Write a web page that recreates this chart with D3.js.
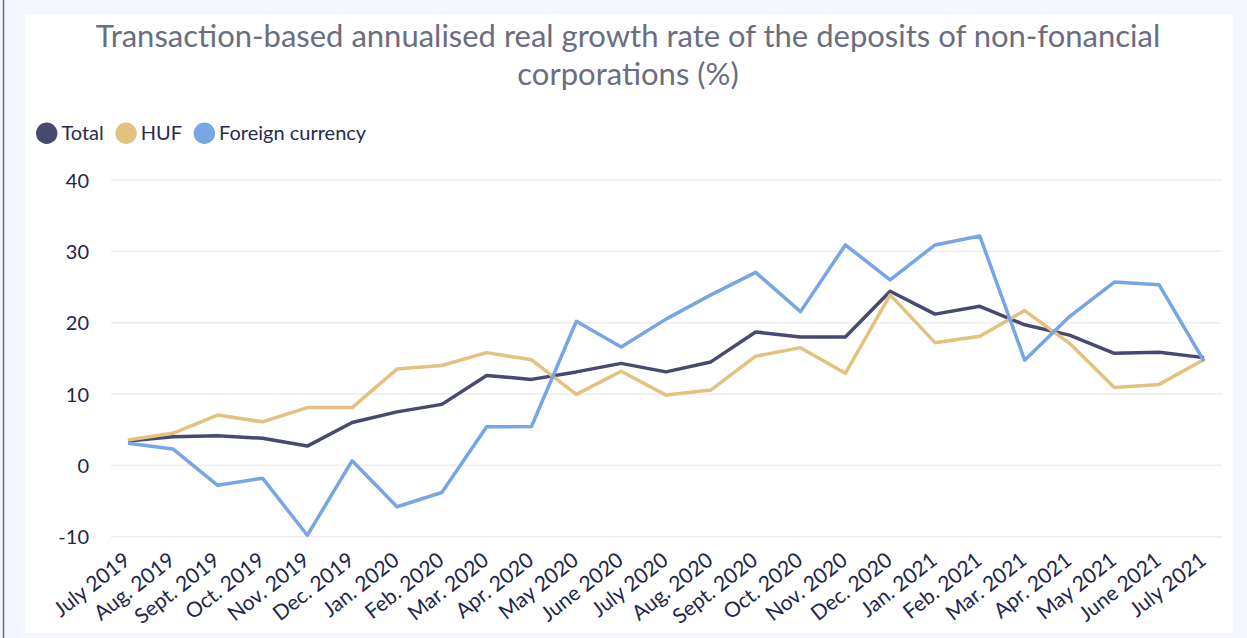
<!DOCTYPE html>
<html>
<head>
<meta charset="utf-8">
<script src="https://cdn.jsdelivr.net/npm/d3@7/dist/d3.min.js"></script>
<style>
  html, body { margin: 0; padding: 0; background: #f3f6fc; }
  svg { display: block; }
</style>
</head>
<body>
<svg id="chart" width="1247" height="638"></svg>
<script>
const categories = ["July 2019","Aug. 2019","Sept. 2019","Oct. 2019","Nov. 2019","Dec. 2019","Jan. 2020","Feb. 2020","Mar. 2020","Apr. 2020","May 2020","June 2020","July 2020","Aug. 2020","Sept. 2020","Oct. 2020","Nov. 2020","Dec. 2020","Jan. 2021","Feb. 2021","Mar. 2021","Apr. 2021","May 2021","June 2021","July 2021"];
const totalValues = [3.4, 4.0, 4.15, 3.8, 2.7, 6.0, 7.5, 8.55, 12.6, 12.05, 13.1, 14.3, 13.1, 14.5, 18.7, 18.0, 18.0, 24.4, 21.2, 22.3, 19.7, 18.25, 15.7, 15.85, 15.1];
const hufValues = [3.55, 4.5, 7.05, 6.1, 8.1, 8.1, 13.5, 14.0, 15.8, 14.8, 9.95, 13.2, 9.85, 10.55, 15.3, 16.5, 12.9, 23.9, 17.2, 18.1, 21.7, 17.1, 10.9, 11.35, 14.85];
const foreignValues = [3.1, 2.3, -2.8, -1.8, -9.8, 0.65, -5.8, -3.8, 5.4, 5.45, 20.2, 16.6, 20.5, 23.9, 27.05, 21.55, 30.9, 26.0, 30.9, 32.15, 14.75, 20.85, 25.7, 25.3, 14.6];
const yTicks = [-10, 0, 10, 20, 30, 40];
const yTickLabels = ["-10", "0", "10", "20", "30", "40"];
const seriesNames = ["Total", "HUF", "Foreign currency"];
const seriesColors = ["#474a70", "#e2c27e", "#78a5e3"];
const titleLines = ["Transaction-based annualised real growth rate of the deposits of non-fonancial", "corporations (%)"];

const svg = d3.select("#chart");
const FONT = "Lato, 'Open Sans', sans-serif";

// background panel
svg.append("rect").attr("x", 0).attr("y", 0).attr("width", 1247).attr("height", 638).attr("fill", "#f3f6fc");
svg.append("rect").attr("x", 25).attr("y", 14).attr("width", 1208).attr("height", 619).attr("fill", "#ffffff");
svg.append("line").attr("x1", 3.5).attr("x2", 3.5).attr("y1", 0).attr("y2", 638)
  .attr("stroke", "#6a6d8c").attr("stroke-width", 1.5);

// title
svg.append("g").selectAll("text").data(titleLines).join("text")
  .attr("x", 628).attr("y", (d, i) => 47 + i * 38)
  .attr("text-anchor", "middle")
  .attr("font-family", FONT).attr("font-size", 31)
  .attr("fill", "#6b6d80")
  .text(d => d);

// scales
const x = d3.scalePoint().domain(categories).range([128, 1204]);
const y = d3.scaleLinear().domain([-10, 40]).range([536.7, 180]);

// gridlines
svg.append("g").selectAll("line").data(yTicks).join("line")
  .attr("x1", 111).attr("x2", 1222)
  .attr("y1", d => y(d)).attr("y2", d => y(d))
  .attr("stroke", "#eeeeee").attr("stroke-width", 1.5);

// y axis
const yAxis = svg.append("g").attr("transform", "translate(89,0)")
  .call(d3.axisLeft(y).tickValues(yTicks).tickFormat((d, i) => yTickLabels[i]).tickSize(0).tickPadding(0));
yAxis.select(".domain").remove();
yAxis.selectAll("text").attr("font-family", FONT).attr("font-size", 20).attr("fill", "#22264a").attr("dy", "0.35em");

// x axis
const xAxis = svg.append("g").attr("transform", "translate(0,536.7)")
  .call(d3.axisBottom(x).tickSize(0).tickPadding(0));
xAxis.select(".domain").remove();
xAxis.selectAll("text")
  .attr("font-family", FONT).attr("font-size", 21).attr("fill", "#22264a")
  .attr("text-anchor", "end").attr("dy", 0).attr("y", 0)
  .attr("transform", "translate(3,26) rotate(-38)");

// lines
const seriesData = [totalValues, hufValues, foreignValues];
const line = d3.line().x((d, i) => x(categories[i])).y(d => y(d));
svg.append("g").selectAll("path").data(seriesData).join("path")
  .attr("d", d => line(d))
  .attr("fill", "none")
  .attr("stroke", (d, i) => seriesColors[i])
  .attr("stroke-width", 3.5)
  .attr("stroke-linejoin", "round");

// legend
const legend = svg.append("g");
let lx = 36;
seriesNames.forEach((name, i) => {
  legend.append("circle").attr("cx", lx + 10.7).attr("cy", 133.3).attr("r", 10.7).attr("fill", seriesColors[i]);
  const t = legend.append("text").attr("x", lx + 21.4 + 4).attr("y", 140)
    .attr("font-family", FONT).attr("font-size", 20).attr("fill", "#262a4f").text(name);
  lx = lx + 25.4 + t.node().getComputedTextLength() + 11.6;
});
</script>
</body>
</html>
